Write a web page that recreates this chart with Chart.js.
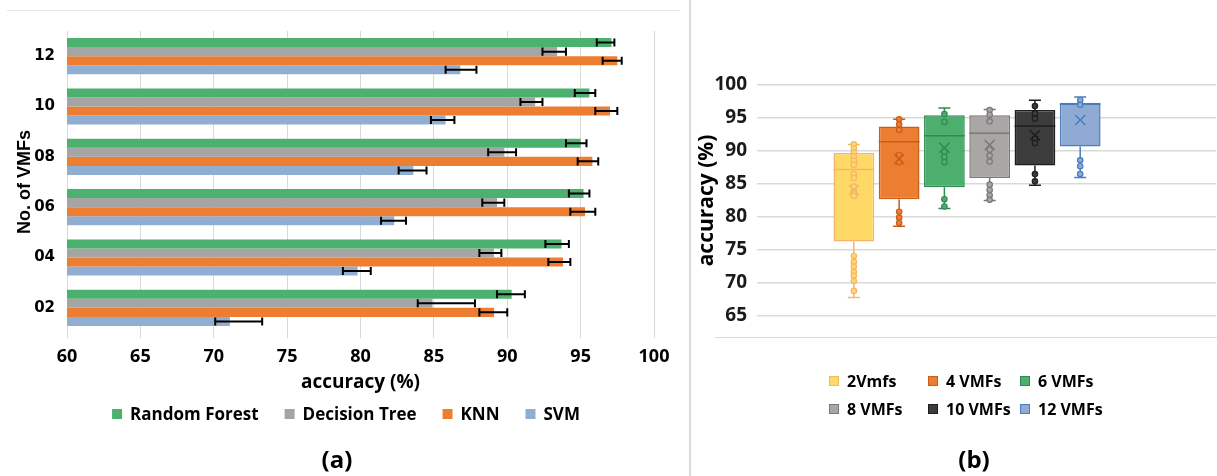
<!DOCTYPE html>
<html>
<head>
<meta charset="utf-8">
<script src="https://cdn.jsdelivr.net/npm/chart.js@4.4.1/dist/chart.umd.min.js"></script>
<style>
  html, body { margin: 0; padding: 0; background: #fff; }
  #wrap { position: relative; width: 1217px; height: 476px; overflow: hidden; }
  #chartA { position: absolute; left: 0; top: 0; }
  #chartB { position: absolute; left: 680px; top: 0; }
  .rule { position: absolute; background: #d9d9d9; }
</style>
</head>
<body>
<div id="wrap">
  <div class="rule" style="left:7px; top:10px; width:673px; height:1px; background:#e6e6e6;"></div>
  <div class="rule" style="left:689px; top:0; width:2px; height:476px;"></div>
  <div class="rule" style="left:715px; top:337px; width:502px; height:1px;"></div>
  <canvas id="chartA" width="680" height="476"></canvas>
  <canvas id="chartB" width="537" height="476"></canvas>
</div>
<script>
// ---- panel (a): accuracy per classifier, top to bottom ----
const vmfLabels = ['12', '10', '08', '06', '04', '02'];
const accTicks = [60, 65, 70, 75, 80, 85, 90, 95, 100];

const rfAcc = [97.1, 95.6, 95.0, 95.2, 93.7, 90.3];
const rfLow = [96.1, 94.6, 94.0, 94.2, 92.6, 89.3];
const rfHigh = [97.3, 96.0, 95.4, 95.6, 94.2, 91.2];

const dtAcc = [93.4, 91.9, 89.8, 89.3, 89.1, 84.9];
const dtLow = [92.4, 90.9, 88.7, 88.3, 88.1, 83.9];
const dtHigh = [94.0, 92.4, 90.6, 89.8, 89.6, 87.8];

const knnAcc = [97.5, 97.0, 95.8, 95.3, 93.8, 89.1];
const knnLow = [96.5, 96.0, 94.8, 94.3, 92.8, 88.1];
const knnHigh = [97.8, 97.5, 96.2, 96.0, 94.3, 90.0];

const svmAcc = [86.8, 85.8, 83.6, 82.3, 79.8, 71.1];
const svmLow = [85.8, 84.8, 82.6, 81.4, 78.8, 70.1];
const svmHigh = [87.9, 86.4, 84.5, 83.1, 80.7, 73.3];

// ---- panel (b): box plot per number of VMFs ----
const boxLabels = ['2Vmfs', '4 VMFs', '6 VMFs', '8 VMFs', '10 VMFs', '12 VMFs'];
const boxMin = [67.8, 78.6, 81.3, 82.5, 84.8, 86.0];
const boxQ1 = [76.3, 82.7, 84.5, 85.9, 87.8, 90.7];
const boxMedian = [87.2, 91.4, 92.3, 92.7, 93.8, 97.1];
const boxQ3 = [89.7, 93.7, 95.4, 95.4, 96.2, 97.3];
const boxMax = [91.0, 94.8, 96.5, 96.3, 97.7, 98.2];
const boxMean = [84.1, 88.8, 90.5, 90.9, 92.4, 94.7];
const boxPoints = [
    [91.0, 90.4, 89.8, 89.2, 88.5, 87.9, 86.5, 85.9, 84.6, 83.8, 83.2, 74.1, 73.2, 72.5, 71.7, 71.1, 70.3, 68.8],
    [94.8, 94.0, 93.2, 89.4, 88.3, 80.8, 79.9, 79.1],
    [95.6, 94.4, 89.9, 89.1, 88.3, 82.7, 81.6],
    [96.2, 95.5, 94.5, 90.2, 89.3, 88.4, 84.9, 84.1, 83.3, 82.6],
    [96.8, 95.7, 94.9, 91.9, 91.2, 86.5, 85.4],
    [97.7, 97.0, 88.6, 87.7, 86.5]
];
const boxTicks = [65, 70, 75, 80, 85, 90, 95, 100];

const boxFill = ['#FFD966', '#ED7D31', '#4CAF6E', '#A9A6A6', '#3C3C3C', '#8FABD3'];
const boxLine = ['#F5B56A', '#C75F1C', '#2F8A4F', '#7A7777', '#1E1E1E', '#4A7CC0'];

Chart.defaults.font.family = "'Open Sans', sans-serif";
Chart.defaults.color = '#000';

const boldFont = (size, family) => ({ size: size, weight: 'bold', family: family || "'Open Sans', sans-serif" });

function drawLegendItem(ctx, x, y, fill, stroke, text) {
    ctx.fillStyle = fill;
    ctx.fillRect(x, y - 5, 10, 10);
    if (stroke) {
        ctx.strokeStyle = stroke;
        ctx.lineWidth = 1;
        ctx.strokeRect(x + 0.5, y - 4.5, 9, 9);
    }
    ctx.fillStyle = '#000';
    ctx.fillText(text, x + 18, y + 1);
}

// error bars for the horizontal bars
const errorBars = {
    id: 'errorBars',
    afterDatasetsDraw(chart) {
        const ctx = chart.ctx;
        const xs = chart.scales.x;
        ctx.save();
        ctx.strokeStyle = '#000';
        ctx.lineWidth = 2;
        chart.data.datasets.forEach((ds, i) => {
            chart.getDatasetMeta(i).data.forEach((bar, j) => {
                const x1 = xs.getPixelForValue(ds.errLow[j]);
                const x2 = xs.getPixelForValue(ds.errHigh[j]);
                const h = bar.height / 2 - 0.5;
                ctx.beginPath();
                ctx.moveTo(x1, bar.y); ctx.lineTo(x2, bar.y);
                ctx.moveTo(x1, bar.y - h); ctx.lineTo(x1, bar.y + h);
                ctx.moveTo(x2, bar.y - h); ctx.lineTo(x2, bar.y + h);
                ctx.stroke();
            });
        });
        ctx.restore();
    }
};

const legendA = {
    id: 'legendA',
    afterDraw(chart) {
        const ctx = chart.ctx;
        ctx.save();
        ctx.font = 'bold 17px "Open Sans"';
        ctx.textBaseline = 'middle';
        const items = chart.data.datasets;
        const widths = items.map(ds => 18 + ctx.measureText(ds.label).width);
        const total = widths.reduce((a, b) => a + b, 0) + 26 * (items.length - 1);
        let x = 346 - total / 2;
        items.forEach((ds, i) => {
            drawLegendItem(ctx, x, 414, ds.backgroundColor, null, ds.label);
            x += widths[i] + 26;
        });
        ctx.font = 'bold 24px "Open Sans"';
        ctx.textAlign = 'center';
        ctx.fillText('(a)', 337, 461);
        ctx.restore();
    }
};

new Chart(document.getElementById('chartA'), {
    type: 'bar',
    data: {
        labels: vmfLabels,
        datasets: [
            { label: 'Random Forest', data: rfAcc, errLow: rfLow, errHigh: rfHigh, backgroundColor: '#4CB06E' },
            { label: 'Decision Tree', data: dtAcc, errLow: dtLow, errHigh: dtHigh, backgroundColor: '#A5A5A5' },
            { label: 'KNN', data: knnAcc, errLow: knnLow, errHigh: knnHigh, backgroundColor: '#ED7D31' },
            { label: 'SVM', data: svmAcc, errLow: svmLow, errHigh: svmHigh, backgroundColor: '#8FAED2' }
        ]
    },
    options: {
        indexAxis: 'y',
        responsive: false,
        animation: false,
        barPercentage: 1,
        categoryPercentage: 0.72,
        layout: { padding: { left: 6, top: 31, right: 26, bottom: 80 } },
        plugins: {
            legend: { display: false },
            tooltip: { enabled: false }
        },
        scales: {
            x: {
                min: 60,
                max: 100,
                afterBuildTicks: s => { s.ticks = accTicks.map(v => ({ value: v })); },
                afterFit: s => { s.height = 63; },
                border: { display: false },
                grid: { color: '#d9d9d9', lineWidth: 1, tickLength: 5 },
                ticks: { font: boldFont(18), padding: 8, color: '#000' },
                title: { display: true, text: 'accuracy (%)', font: boldFont(19), color: '#000', padding: { top: 0, bottom: 2 } }
            },
            y: {
                afterFit: s => { s.width = 61; },
                border: { display: false },
                grid: { display: false, drawTicks: false },
                ticks: { font: boldFont(15, "'DejaVu Sans'"), padding: 12, color: '#000' },
                title: { display: true, text: 'No. of VMFs', font: boldFont(18, "'Liberation Sans'"), color: '#000', padding: { top: 8, bottom: 0 } }
            }
        }
    },
    plugins: [errorBars, legendA]
});

// whiskers, median, mean and inner points on top of the floating bars
const boxDetails = {
    id: 'boxDetails',
    afterDatasetsDraw(chart) {
        const ctx = chart.ctx;
        const ys = chart.scales.y;
        ctx.save();
        chart.data.datasets.forEach((ds, i) => {
            const bar = chart.getDatasetMeta(i).data[0];
            const cx = bar.x;
            const half = bar.width / 2;
            const py = v => ys.getPixelForValue(v);
            ctx.strokeStyle = boxLine[i];
            ctx.lineWidth = 1.5;
            ctx.beginPath();
            ctx.moveTo(cx, py(boxQ3[i])); ctx.lineTo(cx, py(boxMax[i]));
            ctx.moveTo(cx - 6, py(boxMax[i])); ctx.lineTo(cx + 6, py(boxMax[i]));
            ctx.moveTo(cx, py(boxQ1[i])); ctx.lineTo(cx, py(boxMin[i]));
            ctx.moveTo(cx - 6, py(boxMin[i])); ctx.lineTo(cx + 6, py(boxMin[i]));
            ctx.moveTo(cx - half, py(boxMedian[i])); ctx.lineTo(cx + half, py(boxMedian[i]));
            ctx.stroke();
            ctx.lineWidth = 1.2;
            boxPoints[i].forEach(v => {
                ctx.beginPath();
                ctx.arc(cx, py(v), 2.7, 0, Math.PI * 2);
                ctx.fillStyle = boxFill[i];
                ctx.fill();
                ctx.stroke();
            });
            const ym = py(boxMean[i]);
            ctx.lineWidth = 1.5;
            ctx.beginPath();
            ctx.moveTo(cx - 5, ym - 5); ctx.lineTo(cx + 5, ym + 5);
            ctx.moveTo(cx + 5, ym - 5); ctx.lineTo(cx - 5, ym + 5);
            ctx.stroke();
        });
        ctx.restore();
    }
};

const legendColX = [149, 248, 340];
const legendRowY = [381, 409];

const legendB = {
    id: 'legendB',
    afterDraw(chart) {
        const ctx = chart.ctx;
        ctx.save();
        ctx.font = 'bold 16px "Open Sans"';
        ctx.textBaseline = 'middle';
        chart.data.datasets.forEach((ds, i) => {
            drawLegendItem(ctx, legendColX[i % 3], legendRowY[Math.floor(i / 3)], ds.backgroundColor, ds.borderColor, ds.label);
        });
        ctx.font = 'bold 24px "Open Sans"';
        ctx.textAlign = 'center';
        ctx.fillText('(b)', 294, 461);
        ctx.restore();
    }
};

new Chart(document.getElementById('chartB'), {
    type: 'bar',
    data: {
        datasets: boxLabels.map((label, i) => ({
            label: label,
            data: [{ x: i + 1, y: [boxQ1[i], boxQ3[i]] }],
            backgroundColor: boxFill[i],
            borderColor: boxLine[i],
            borderWidth: 1.5,
            borderSkipped: false,
            grouped: false,
            barPercentage: 0.9,
            categoryPercentage: 1
        }))
    },
    options: {
        responsive: false,
        animation: false,
        layout: { padding: { left: 6, top: 85, right: 1, bottom: 160 } },
        plugins: {
            legend: { display: false },
            tooltip: { enabled: false }
        },
        scales: {
            x: {
                type: 'linear',
                min: -1.14,
                max: 9.0,
                offset: false,
                display: false,
                grid: { offset: false }
            },
            y: {
                min: 65,
                max: 100,
                afterBuildTicks: s => { s.ticks = boxTicks.map(v => ({ value: v })); },
                afterFit: s => { s.width = 71; },
                border: { display: false },
                grid: { color: '#d9d9d9', lineWidth: 1.5, drawTicks: false },
                ticks: { font: boldFont(19), padding: 10, color: '#1a1a1a' },
                title: { display: true, text: 'accuracy (%)', font: boldFont(21), color: '#000', padding: { top: 8, bottom: 0 } }
            }
        }
    },
    plugins: [boxDetails, legendB]
});
</script>
</body>
</html>
